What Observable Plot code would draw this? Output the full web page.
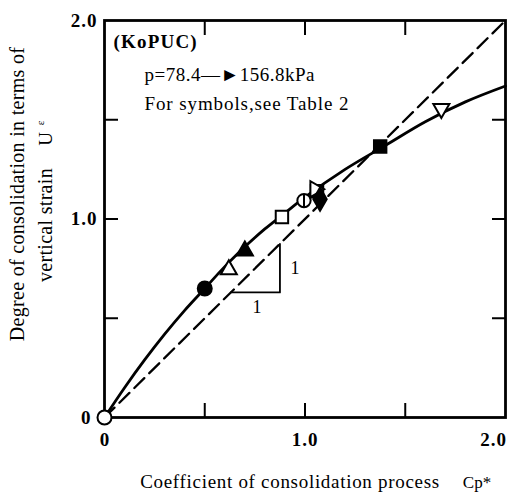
<!DOCTYPE html>
<html><head><meta charset="utf-8">
<script src="https://cdn.jsdelivr.net/npm/d3@7"></script>
<script src="https://cdn.jsdelivr.net/npm/@observablehq/plot@0.6"></script>
<style>body{margin:0;background:#fff}</style>
</head><body><div id="chart"></div>
<script>
// Solid fitted curve
const curveX = [0, 0.1, 0.2, 0.3, 0.4, 0.5, 0.6, 0.7, 0.8, 0.9, 1.0, 1.2, 1.4, 1.6, 1.8, 2.0];
const curveY = [0, 0.15, 0.29, 0.42, 0.54, 0.65, 0.76, 0.86, 0.95, 1.03, 1.11, 1.25, 1.37, 1.49, 1.59, 1.67];
// Dashed 1:1 line
const diagX = [0, 2];
const diagY = [0, 2];
// Slope triangle
const slopeX = [0.63, 0.875, 0.875];
const slopeY = [0.63, 0.63, 0.875];
const slopeLabelX = [0.95, 0.76];
const slopeLabelY = [0.75, 0.555];
// Data points
const ptX = [0, 0.5, 0.62, 0.70, 0.885, 0.995, 1.06, 1.05, 1.075, 1.375, 1.68];
const ptY = [0, 0.65, 0.745, 0.84, 1.01, 1.093, 1.14, 1.15, 1.10, 1.365, 1.556];
const ptSym = ["circle", "circle", "triUp", "triUp", "square", "theta", "square", "triRight", "diamond", "square", "triDown"];
const ptFill = ["white", "black", "white", "black", "white", "white", "black", "white", "black", "black", "white"];
// Ticks
const minorTicks = [0.5, 1.0, 1.5];
const tickLabelVals = [0, 1, 2];
const tickLabels = ["0", "1.0", "2.0"];

const tri = (a) => ({draw(c, s){
  const side = Math.sqrt(s * 4 / Math.sqrt(3)) * 0.85;
  const R = side / Math.sqrt(3);
  for (let k = 0; k < 3; k++) {
    const t = a + k * 2 * Math.PI / 3;
    const px = R * Math.cos(t), py = R * Math.sin(t);
    if (k === 0) c.moveTo(px, py); else c.lineTo(px, py);
  }
  c.closePath();
}});
const theta = {draw(c, s){const r=Math.sqrt(s/Math.PI)*0.95; c.moveTo(r,0); c.arc(0,0,r,0,2*Math.PI); c.moveTo(0,-r); c.lineTo(0,r);}};
const symMap = {circle: "circle", square: "square", diamond: "diamond",
  triUp: tri(-Math.PI/2), triDown: tri(Math.PI/2), triRight: tri(0), theta};

const points = ptX.map((x, i) => ({x, y: ptY[i], sym: ptSym[i], fill: ptFill[i]}));
const curve = curveX.map((x, i) => ({x, y: curveY[i]}));
const diag = diagX.map((x, i) => ({x, y: diagY[i]}));
const slope = slopeX.map((x, i) => ({x, y: slopeY[i]}));
const slopeLabels = slopeLabelX.map((x, i) => ({x, y: slopeLabelY[i]}));

const serif = "Liberation Serif, Times New Roman, serif";
const fmt = (d) => tickLabels[tickLabelVals.indexOf(d)];

const chart = Plot.plot({
  width: 512, height: 496,
  marginLeft: 104, marginRight: 7, marginTop: 20, marginBottom: 79,
  x: {domain: [0, 2]},
  y: {domain: [0, 2]},
  style: {fontFamily: serif, background: "white", color: "black"},
  marks: [
    Plot.line(diag, {x: "x", y: "y", stroke: "black", strokeWidth: 2.3, strokeDasharray: "14,7"}),
    Plot.line(curve, {x: "x", y: "y", curve: "catmull-rom", stroke: "black", strokeWidth: 2.8}),
    Plot.line(slope, {x: "x", y: "y", stroke: "black", strokeWidth: 1.8}),
    Plot.text(slopeLabels, {x: "x", y: "y", text: () => "1", fontSize: 18, fontFamily: serif}),
    Plot.frame({stroke: "black", strokeWidth: 2.8}),
    Plot.axisX({ticks: minorTicks, anchor: "bottom", tickSize: -14, tickFormat: () => "", strokeWidth: 2, label: null}),
    Plot.axisX({ticks: minorTicks, anchor: "top", tickSize: -14, tickFormat: () => "", strokeWidth: 2, label: null}),
    Plot.axisY({ticks: minorTicks, anchor: "left", tickSize: -14, tickFormat: () => "", strokeWidth: 2, label: null}),
    Plot.axisY({ticks: minorTicks, anchor: "right", tickSize: -14, tickFormat: () => "", strokeWidth: 2, label: null}),
    Plot.axisX({ticks: tickLabelVals.slice(0, 2), anchor: "bottom", tickSize: 0, tickPadding: 15, tickFormat: fmt, fontSize: 19, fontWeight: "bold", label: null}),
    Plot.axisX({ticks: tickLabelVals.slice(2), anchor: "bottom", tickSize: 0, tickPadding: 15, dx: -12, tickFormat: fmt, fontSize: 19, fontWeight: "bold", label: null}),
    Plot.axisY({ticks: tickLabelVals.slice(1), anchor: "left", tickSize: 0, tickPadding: 7, tickFormat: fmt, fontSize: 19, fontWeight: "bold", label: null}),
    Plot.axisY({ticks: tickLabelVals.slice(0, 1), anchor: "left", tickSize: 0, tickPadding: 14, tickFormat: fmt, fontSize: 19, fontWeight: "bold", label: null}),
    Plot.dot(points, {x: "x", y: "y", symbol: (d) => symMap[d.sym], fill: "fill", stroke: "black", strokeWidth: 2, r: 7}),
    // titles
    Plot.text(["Coefficient of consolidation process"], {frameAnchor: "bottom", dx: -15, dy: 70, fontSize: 19, fontFamily: serif}),
    Plot.text(["Cp*"], {frameAnchor: "bottom", dx: 172, dy: 70, fontSize: 17, fontFamily: serif}),
    Plot.text(["Degree of consolidation in terms of"], {frameAnchor: "left", textAnchor: "middle", dx: -87, dy: -25, rotate: -90, fontSize: 20, fontFamily: serif}),
    Plot.text(["vertical strain"], {frameAnchor: "left", textAnchor: "middle", dx: -59, dy: 6, rotate: -90, fontSize: 20, fontFamily: serif}),
    Plot.text(["U"], {frameAnchor: "left", textAnchor: "middle", dx: -59, dy: -80, rotate: -90, fontSize: 19, fontFamily: serif}),
    Plot.text(["ε"], {frameAnchor: "left", textAnchor: "middle", dx: -64, dy: -96, rotate: -90, fontSize: 11, fontFamily: serif}),
    // annotations
    Plot.text(["(KoPUC)"], {frameAnchor: "top-left", dx: 9, dy: 14, textAnchor: "start", fontSize: 19, fontWeight: "bold", fontFamily: serif}),
    Plot.text(["p=78.4\u2014\u25BA156.8kPa"], {frameAnchor: "top-left", dx: 40, dy: 47, textAnchor: "start", fontSize: 19, fontFamily: serif}),
    Plot.text(["For symbols,see Table 2"], {frameAnchor: "top-left", dx: 40, dy: 76, textAnchor: "start", fontSize: 19, fontFamily: serif})
  ]
});
// Scanned original has wider letter spacing
const spaced = {"(KoPUC)": "1.2px", "p=78.4\u2014\u25BA156.8kPa": "0.5px", "For symbols,see Table 2": "0.9px",
  "Coefficient of consolidation process": "0.7px", "Degree of consolidation in terms of": "0.3px",
  "vertical strain": "0.3px", "2.0": "1px", "1.0": "1px"};
d3.select(chart).selectAll("text").each(function() {
  const ls = spaced[this.textContent];
  if (ls) this.style.letterSpacing = ls;
});
document.getElementById("chart").appendChild(chart);
</script>
</body></html>
